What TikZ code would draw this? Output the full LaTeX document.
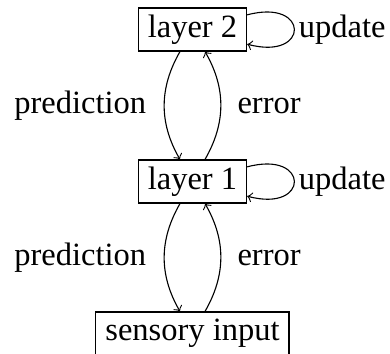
\documentclass[tikz,border=0pt]{standalone}
\usepackage{fontspec}
\setmainfont{Liberation Serif}
\begin{document}
\begin{tikzpicture}[x=0.36pt, y=0.36pt,
  font=\fontsize{11.7pt}{14pt}\selectfont,
  layerbox/.style={draw, rectangle, inner xsep=3.4pt, inner ysep=2pt, minimum height=15.5pt},
  flow/.style={->}]
  \useasboundingbox (0,0) rectangle (390,353);

  % layers of the hierarchy
  \node[layerbox] (l2) at (192.5,323.5) {layer 2};
  \node[layerbox] (l1) at (192.5,171.5) {layer 1};
  \node[layerbox] (s)  at (192.5,19.5)  {sensory input};

  % top-down predictions and bottom-up errors
  \draw[flow] ([xshift=-4.5pt]l2.south) to[out=240, in=120]
    node[midway, left=3pt] {prediction} ([xshift=-4.5pt]l1.north);
  \draw[flow] ([xshift=4.5pt]l1.north) to[out=60, in=-60]
    node[midway, right=2.5pt] {error} ([xshift=4.5pt]l2.south);

  \draw[flow] ([xshift=-4.5pt]l1.south) to[out=240, in=120]
    node[midway, left=3pt] {prediction} ([xshift=-4.5pt]s.north);
  \draw[flow] ([xshift=4.5pt]s.north) to[out=60, in=-60]
    node[midway, right=2.5pt] {error} ([xshift=4.5pt]l1.south);

  % self updates
  \draw[flow] (l2) to[out=15, in=-15, min distance=23.4pt]
    node[pos=0.5, anchor=west, inner sep=1.5pt] {update} (l2);
  \draw[flow] (l1) to[out=15, in=-15, min distance=23.4pt]
    node[pos=0.5, anchor=west, inner sep=1.5pt] {update} (l1);
\end{tikzpicture}
\end{document}
